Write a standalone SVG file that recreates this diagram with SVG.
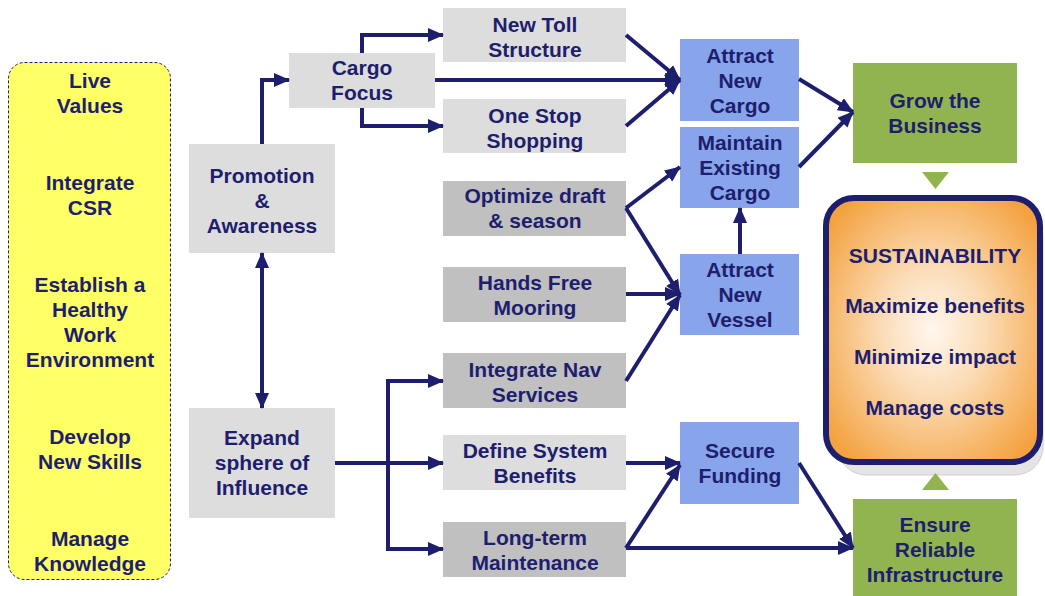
<svg xmlns="http://www.w3.org/2000/svg" width="1045" height="596" viewBox="0 0 1045 596">
<defs>
<style>
text{font-family:"Liberation Sans",Arial,sans-serif;font-weight:bold;font-size:21px;fill:#1E1E6E;text-anchor:middle}
.lg{fill:#DDDDDD}
.mg{fill:#C0C0C0}
.bl{fill:#88A4EA}
.gr{fill:#92B450}
.c{fill:none;stroke:#1E1E6E;stroke-width:4}
</style>
<marker id="ah" markerUnits="userSpaceOnUse" markerWidth="16" markerHeight="14" refX="15" refY="7" orient="auto">
<path d="M0,0 L16,7 L0,14 z" fill="#1E1E6E"/>
</marker>
<marker id="as" markerUnits="userSpaceOnUse" markerWidth="16" markerHeight="14" refX="1" refY="7" orient="auto">
<path d="M16,0 L0,7 L16,14 z" fill="#1E1E6E"/>
</marker>
<radialGradient id="og" cx="50%" cy="50%" r="62%">
<stop offset="0" stop-color="#FFF7EE"/>
<stop offset="0.38" stop-color="#FBDDB8"/>
<stop offset="1" stop-color="#F4A240"/>
</radialGradient>
</defs>
<rect width="1045" height="596" fill="#FFFFFF"/>

<g id="values">
<rect x="8.5" y="62.5" width="162" height="517" rx="16" fill="#FFFF66" stroke="#1E1E6E" stroke-width="1" stroke-dasharray="3,2"/>
<text x="90" y="88">Live</text><text x="90" y="113">Values</text>
<text x="90" y="190">Integrate</text><text x="90" y="215">CSR</text>
<text x="90" y="292">Establish a</text><text x="90" y="317">Healthy</text><text x="90" y="342">Work</text><text x="90" y="367">Environment</text>
<text x="90" y="444">Develop</text><text x="90" y="469">New Skills</text>
<text x="90" y="546">Manage</text><text x="90" y="571">Knowledge</text>
</g>

<g id="promotion"><rect class="lg" x="189" y="144" width="146" height="109"/>
<text x="262" y="183">Promotion</text><text x="262" y="208">&amp;</text><text x="262" y="233">Awareness</text></g>
<g id="expand"><rect class="lg" x="189" y="408" width="146" height="110"/>
<text x="262" y="445">Expand</text><text x="262" y="470">sphere of</text><text x="262" y="495">Influence</text></g>
<g id="cargo-focus"><rect class="lg" x="289" y="53" width="146" height="55"/>
<text x="362" y="75">Cargo</text><text x="362" y="100">Focus</text></g>
<g id="new-toll"><rect class="lg" x="443" y="8" width="183" height="54"/>
<text x="535" y="32">New Toll</text><text x="535" y="57">Structure</text></g>
<g id="one-stop"><rect class="lg" x="443" y="99" width="183" height="54"/>
<text x="535" y="123">One Stop</text><text x="535" y="148">Shopping</text></g>
<g id="optimize"><rect class="mg" x="443" y="181" width="183" height="55"/>
<text x="535" y="203">Optimize draft</text><text x="535" y="228">&amp; season</text></g>
<g id="hands-free"><rect class="mg" x="443" y="267" width="183" height="55"/>
<text x="535" y="290">Hands Free</text><text x="535" y="315">Mooring</text></g>
<g id="integrate-nav"><rect class="mg" x="443" y="353" width="183" height="55"/>
<text x="535" y="377">Integrate Nav</text><text x="535" y="402">Services</text></g>
<g id="define"><rect class="lg" x="443" y="435" width="183" height="55"/>
<text x="535" y="458">Define System</text><text x="535" y="483">Benefits</text></g>
<g id="long-term"><rect class="mg" x="443" y="522" width="183" height="55"/>
<text x="535" y="545">Long-term</text><text x="535" y="570">Maintenance</text></g>

<g id="attract-cargo"><rect class="bl" x="680" y="39" width="119" height="82"/>
<text x="740" y="63">Attract</text><text x="740" y="88">New</text><text x="740" y="113">Cargo</text></g>
<g id="maintain"><rect class="bl" x="680" y="127" width="119" height="81"/>
<text x="740" y="150">Maintain</text><text x="740" y="175">Existing</text><text x="740" y="200">Cargo</text></g>
<g id="attract-vessel"><rect class="bl" x="680" y="254" width="119" height="81"/>
<text x="740" y="277">Attract</text><text x="740" y="302">New</text><text x="740" y="327">Vessel</text></g>
<g id="secure"><rect class="bl" x="680" y="422" width="119" height="82"/>
<text x="740" y="458">Secure</text><text x="740" y="483">Funding</text></g>

<g id="grow"><rect class="gr" x="853" y="63" width="164" height="100"/>
<text x="935" y="108">Grow the</text><text x="935" y="133">Business</text></g>
<g id="ensure"><rect class="gr" x="853" y="499" width="164" height="97"/>
<text x="935" y="532">Ensure</text><text x="935" y="557">Reliable</text><text x="935" y="582">Infrastructure</text></g>

<g id="sustainability">
<rect x="838" y="210" width="205" height="265" rx="28" fill="#E4E4E4" stroke="#D0D0D0" stroke-width="1"/>
<rect x="826" y="198" width="214" height="264" rx="28" fill="url(#og)" stroke="#1E1E6E" stroke-width="6"/>
<text x="935" y="263">SUSTAINABILITY</text>
<text x="935" y="313">Maximize benefits</text>
<text x="935" y="364">Minimize impact</text>
<text x="935" y="415">Manage costs</text>
</g>
<g id="triangles" fill="#92B450">
<polygon points="922,172 949,172 935.5,189"/>
<polygon points="922,490 949,490 935.5,473"/>
</g>

<g id="connectors" class="c">
<path class="c" d="M262,144 V80 H289" marker-end="url(#ah)"/>
<path class="c" d="M362,53 V35 H443" marker-end="url(#ah)"/>
<path class="c" d="M362,108 V126 H443" marker-end="url(#ah)"/>
<path class="c" d="M435,80 H680" marker-end="url(#ah)"/>
<path class="c" d="M626,35 L680,80" marker-end="url(#ah)"/>
<path class="c" d="M626,126 L680,80" marker-end="url(#ah)"/>
<path class="c" d="M799,79 L853,112" marker-end="url(#ah)"/>
<path class="c" d="M799,167 L853,112" marker-end="url(#ah)"/>
<path class="c" d="M626,208 L680,167" marker-end="url(#ah)"/>
<path class="c" d="M626,208 L680,295" marker-end="url(#ah)"/>
<path class="c" d="M626,294 H680" marker-end="url(#ah)"/>
<path class="c" d="M626,381 L680,295" marker-end="url(#ah)"/>
<path class="c" d="M740,254 V208" marker-end="url(#ah)"/>
<path class="c" d="M262,253 V408" marker-start="url(#as)" marker-end="url(#ah)"/>
<path class="c" d="M335,463 H443" marker-end="url(#ah)"/>
<path class="c" d="M388,463 V381 H443" marker-end="url(#ah)"/>
<path class="c" d="M388,463 V549 H443" marker-end="url(#ah)"/>
<path class="c" d="M626,463 H680" marker-end="url(#ah)"/>
<path class="c" d="M626,548 L680,465" marker-end="url(#ah)"/>
<path class="c" d="M626,548 H853" marker-end="url(#ah)"/>
<path class="c" d="M799,463 L853,548" marker-end="url(#ah)"/>
</g>
</svg>
